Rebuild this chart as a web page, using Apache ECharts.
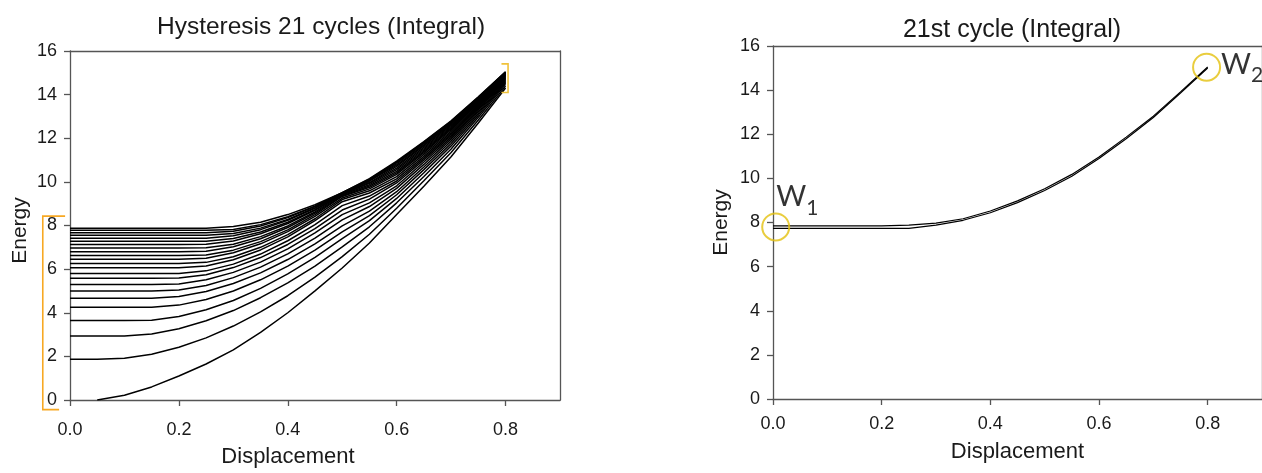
<!DOCTYPE html>
<html>
<head>
<meta charset="utf-8">
<title>Hysteresis integral</title>
<script src="https://cdn.jsdelivr.net/npm/echarts@6/dist/echarts.min.js"></script>
<style>
  html, body { margin: 0; padding: 0; background: #fff; }
  #chart { width: 1262px; height: 473px; }
</style>
</head>
<body>
<div id="chart"></div>
<script>
// Displacement samples shared by every energy curve
const displacement = [0, 0.05, 0.1, 0.15, 0.2, 0.25, 0.3, 0.35, 0.4, 0.45, 0.5, 0.55, 0.6, 0.65, 0.7, 0.75, 0.8];

// Integrated energy of the successive cycles (left panel)
const curve00 = [null, 0, 0.22, 0.6, 1.1, 1.65, 2.3, 3.1, 4.0, 5.0, 6.05, 7.2, 8.5, 9.8, 11.15, 12.7, 14.3];
const curve01 = [1.87, 1.87, 1.91, 2.10, 2.42, 2.85, 3.39, 4.04, 4.78, 5.63, 6.57, 7.60, 8.79, 10.05, 11.35, 12.84, 14.39];
const curve02 = [2.93, 2.93, 2.93, 3.03, 3.27, 3.63, 4.10, 4.69, 5.37, 6.14, 7.02, 7.94, 9.04, 10.25, 11.51, 12.96, 14.47];
const curve03 = [3.64, 3.64, 3.64, 3.66, 3.83, 4.14, 4.56, 5.12, 5.78, 6.54, 7.40, 8.22, 9.24, 10.42, 11.65, 13.06, 14.53];
const curve04 = [4.25, 4.25, 4.25, 4.25, 4.35, 4.61, 5.00, 5.51, 6.14, 6.87, 7.71, 8.45, 9.41, 10.56, 11.76, 13.14, 14.58];
const curve05 = [4.67, 4.67, 4.67, 4.67, 4.74, 4.97, 5.34, 5.83, 6.44, 7.16, 7.98, 8.66, 9.55, 10.68, 11.86, 13.22, 14.62];
const curve06 = [5.00, 5.00, 5.00, 5.00, 5.04, 5.25, 5.61, 6.09, 6.70, 7.42, 8.26, 8.87, 9.70, 10.80, 11.96, 13.29, 14.67];
const curve07 = [5.30, 5.30, 5.30, 5.30, 5.32, 5.51, 5.85, 6.32, 6.93, 7.66, 8.50, 9.04, 9.82, 10.91, 12.04, 13.35, 14.71];
const curve08 = [5.58, 5.58, 5.58, 5.58, 5.59, 5.74, 6.07, 6.53, 7.13, 7.86, 8.71, 9.21, 9.95, 11.01, 12.12, 13.41, 14.74];
const curve09 = [5.80, 5.80, 5.80, 5.80, 5.80, 5.92, 6.23, 6.69, 7.30, 8.04, 8.91, 9.35, 10.04, 11.09, 12.19, 13.46, 14.77];
const curve10 = [6.06, 6.06, 6.06, 6.06, 6.06, 6.14, 6.43, 6.88, 7.48, 8.22, 9.09, 9.49, 10.14, 11.17, 12.26, 13.50, 14.80];
const curve11 = [6.26, 6.26, 6.26, 6.26, 6.26, 6.31, 6.57, 7.00, 7.58, 8.31, 9.19, 9.59, 10.24, 11.26, 12.32, 13.55, 14.83];
const curve12 = [6.45, 6.45, 6.45, 6.45, 6.45, 6.50, 6.75, 7.16, 7.72, 8.42, 9.26, 9.68, 10.34, 11.34, 12.39, 13.60, 14.86];
const curve13 = [6.63, 6.63, 6.63, 6.63, 6.63, 6.65, 6.87, 7.26, 7.80, 8.50, 9.33, 9.75, 10.41, 11.40, 12.44, 13.64, 14.89];
const curve14 = [6.80, 6.80, 6.80, 6.80, 6.80, 6.82, 7.03, 7.39, 7.91, 8.57, 9.36, 9.81, 10.48, 11.46, 12.49, 13.67, 14.91];
const curve15 = [6.97, 6.97, 6.97, 6.97, 6.97, 6.98, 7.14, 7.49, 7.98, 8.62, 9.40, 9.87, 10.56, 11.52, 12.54, 13.71, 14.93];
const curve16 = [7.13, 7.13, 7.13, 7.13, 7.13, 7.14, 7.29, 7.62, 8.09, 8.70, 9.43, 9.93, 10.63, 11.58, 12.59, 13.74, 14.95];
const curve17 = [7.28, 7.28, 7.28, 7.28, 7.28, 7.28, 7.40, 7.70, 8.15, 8.73, 9.45, 9.97, 10.71, 11.65, 12.64, 13.78, 14.98];
const curve18 = [7.42, 7.42, 7.42, 7.42, 7.42, 7.42, 7.53, 7.81, 8.24, 8.79, 9.47, 10.03, 10.77, 11.70, 12.68, 13.81, 14.99];
const curve19 = [7.55, 7.55, 7.55, 7.55, 7.55, 7.55, 7.63, 7.88, 8.28, 8.82, 9.48, 10.06, 10.83, 11.75, 12.72, 13.84, 15.01];
const curve20 = [7.67, 7.67, 7.67, 7.67, 7.67, 7.67, 7.74, 7.98, 8.36, 8.87, 9.49, 10.09, 10.88, 11.79, 12.75, 13.86, 15.03];
const curve21 = [7.78, 7.78, 7.78, 7.78, 7.78, 7.78, 7.82, 8.04, 8.40, 8.89, 9.50, 10.12, 10.91, 11.82, 12.78, 13.88, 15.04];
const curve22 = [7.87, 7.87, 7.87, 7.87, 7.87, 7.87, 7.95, 8.15, 8.50, 8.95, 9.50, 10.15, 10.95, 11.85, 12.80, 13.90, 15.05];
const hysteresisCurves = [curve00, curve01, curve02, curve03, curve04, curve05, curve06, curve07, curve08,
  curve09, curve10, curve11, curve12, curve13, curve14, curve15, curve16, curve17, curve18, curve19,
  curve20, curve21, curve22];

// 21st cycle, both branches (right panel)
const lastCycleUpper = [7.85, 7.85, 7.85, 7.85, 7.85, 7.88, 7.97, 8.17, 8.52, 8.98, 9.53, 10.18, 10.97, 11.87, 12.82, 13.92, 15.05];
const lastCycleLower = [7.73, 7.73, 7.73, 7.73, 7.73, 7.73, 7.88, 8.10, 8.44, 8.90, 9.45, 10.10, 10.90, 11.80, 12.76, 13.87, 15.00];

// W1 / W2 markers on the 21st cycle
const markerDisp = [0.005, 0.798];
const markerEnergy = [7.80, 15.04];
const markerSub = ['1', '2'];

// Brackets (data units of the left panel): energy span at zero displacement, spread at the turning point
const bracketStartX = [-0.009, -0.05, -0.05, -0.02];
const bracketStartY = [8.43, 8.43, -0.44, -0.44];
const bracketEndX = [0.7925, 0.8046, 0.8046, 0.7925];
const bracketEndY = [15.41, 15.41, 14.1, 14.1];

// Axis ticks and texts
const dispTicks = { min: 0, max: 0.9, interval: 0.2 };
const energyTicks = { min: 0, max: 16, interval: 2 };
const dispTitle = 'Displacement';
const energyTitle = 'Energy';
const titles = ['Hysteresis 21 cycles (Integral)', '21st cycle (Integral)'];

const FONT = 'Liberation Sans, Arial, sans-serif';
const AXIS_COLOR = '#555';
const TEXT_COLOR = '#1a1a1a';

function pairs(xs, ys) {
  return xs.map((x, i) => [x, ys[i]]);
}

function bottomX(gridIndex, nameGap, labelMargin, namePadding) {
  return {
    type: 'value', gridIndex, position: 'bottom',
    min: dispTicks.min, max: dispTicks.max, interval: dispTicks.interval,
    name: dispTitle, nameLocation: 'middle', nameGap,
    nameTextStyle: { fontFamily: FONT, fontSize: 22, color: TEXT_COLOR, padding: namePadding },
    axisLine: { show: true, lineStyle: { color: AXIS_COLOR, width: 1.3 } },
    axisTick: { show: true, length: 6, lineStyle: { color: AXIS_COLOR, width: 1.3 } },
    axisLabel: {
      fontFamily: FONT, fontSize: 18, color: TEXT_COLOR, margin: labelMargin,
      showMaxLabel: false,
      formatter: v => (Math.abs(v - 0.9) < 1e-9 ? '' : v.toFixed(1))
    },
    splitLine: { show: false }
  };
}
function topX(gridIndex) {
  return {
    type: 'value', gridIndex, position: 'top',
    min: dispTicks.min, max: dispTicks.max, interval: dispTicks.interval,
    axisLine: { show: true, onZero: false, lineStyle: { color: AXIS_COLOR, width: 1.3 } },
    axisTick: { show: false }, axisLabel: { show: false }, splitLine: { show: false }
  };
}
function leftY(gridIndex, nameGap, namePadding) {
  return {
    type: 'value', gridIndex, position: 'left',
    min: energyTicks.min, max: energyTicks.max, interval: energyTicks.interval,
    name: energyTitle, nameLocation: 'middle', nameGap, nameRotate: 90,
    nameTextStyle: { fontFamily: FONT, fontSize: 21, color: TEXT_COLOR, padding: namePadding },
    axisLine: { show: true, lineStyle: { color: AXIS_COLOR, width: 1.3 } },
    axisTick: { show: true, length: 6, lineStyle: { color: AXIS_COLOR, width: 1.3 } },
    axisLabel: { fontFamily: FONT, fontSize: 18, color: TEXT_COLOR, margin: 13 },
    splitLine: { show: false }
  };
}
function rightY(gridIndex) {
  return {
    type: 'value', gridIndex, position: 'right',
    min: energyTicks.min, max: energyTicks.max, interval: energyTicks.interval,
    axisLine: { show: true, onZero: false, lineStyle: { color: AXIS_COLOR, width: 1.3 } },
    axisTick: { show: false }, axisLabel: { show: false }, splitLine: { show: false }
  };
}

function curveSeries(ys, xAxisIndex, yAxisIndex, width) {
  return {
    type: 'line', xAxisIndex, yAxisIndex,
    data: pairs(displacement, ys),
    symbol: 'none', smooth: false, connectNulls: false,
    lineStyle: { color: '#000', width },
    silent: true, animation: false, z: 3
  };
}

// label anchor offsets relative to each marker circle's box
const labelOffsets = [[15, -30], [29, -3]];

const series = [];
hysteresisCurves.forEach(ys => series.push(curveSeries(ys, 0, 0, 1.5)));
series.push(curveSeries(lastCycleUpper, 2, 2, 1.2));
series.push(curveSeries(lastCycleLower, 2, 2, 1.2));
series.push({
  type: 'scatter', xAxisIndex: 2, yAxisIndex: 2, clip: false,
  symbol: 'circle', symbolSize: 27, silent: true, animation: false, z: 6,
  itemStyle: { color: 'rgba(0,0,0,0)', borderColor: '#E3C10E', borderWidth: 2 },
  data: markerDisp.map((x, i) => ({
    value: [x, markerEnergy[i]],
    label: {
      show: true, position: labelOffsets[i], align: 'left', verticalAlign: 'top',
      formatter: '{w|W}{s|' + markerSub[i] + '}',
      rich: {
        w: { fontFamily: 'Lato, sans-serif', fontSize: 29, lineHeight: 36, verticalAlign: 'top', color: '#000' },
        s: { fontFamily: 'Lato, sans-serif', fontSize: 21, lineHeight: 22, verticalAlign: 'bottom', color: '#000' }
      }
    }
  }))
});

const chart = echarts.init(document.getElementById('chart'), null, { renderer: 'canvas' });
chart.setOption({
  backgroundColor: '#fff',
  animation: false,
  title: [
    { text: titles[0], left: 316, top: 10, textAlign: 'center',
      textStyle: { fontFamily: FONT, fontSize: 24.5, fontWeight: 'normal', color: TEXT_COLOR } },
    { text: titles[1], left: 1007, top: 13, textAlign: 'center',
      textStyle: { fontFamily: FONT, fontSize: 25, fontWeight: 'normal', color: TEXT_COLOR } }
  ],
  grid: [
    { left: 70, top: 51, width: 490, height: 352 },
    { left: 773, top: 46, width: 490.5, height: 353 }
  ],
  xAxis: [bottomX(0, 46, 21, [0, 54, 0, 0]), topX(0), bottomX(1, 42, 16, 0), topX(1)],
  yAxis: [leftY(0, 39, [0, 10, 0, 0]), rightY(0), leftY(1, 41, 0), rightY(1)],
  series
});

// Brackets are placed through the left panel's own scales
function bracketGraphic(xs, ys, color) {
  const points = xs.map((x, i) => chart.convertToPixel({ gridIndex: 0 }, [x, ys[i]]));
  return {
    type: 'polyline', silent: true, z: 10,
    shape: { points },
    style: { stroke: color, lineWidth: 1.6, fill: null }
  };
}
chart.setOption({
  graphic: [
    bracketGraphic(bracketStartX, bracketStartY, '#F7A823'),
    bracketGraphic(bracketEndX, bracketEndY, '#F0C23A')
  ]
});
</script>
</body>
</html>
